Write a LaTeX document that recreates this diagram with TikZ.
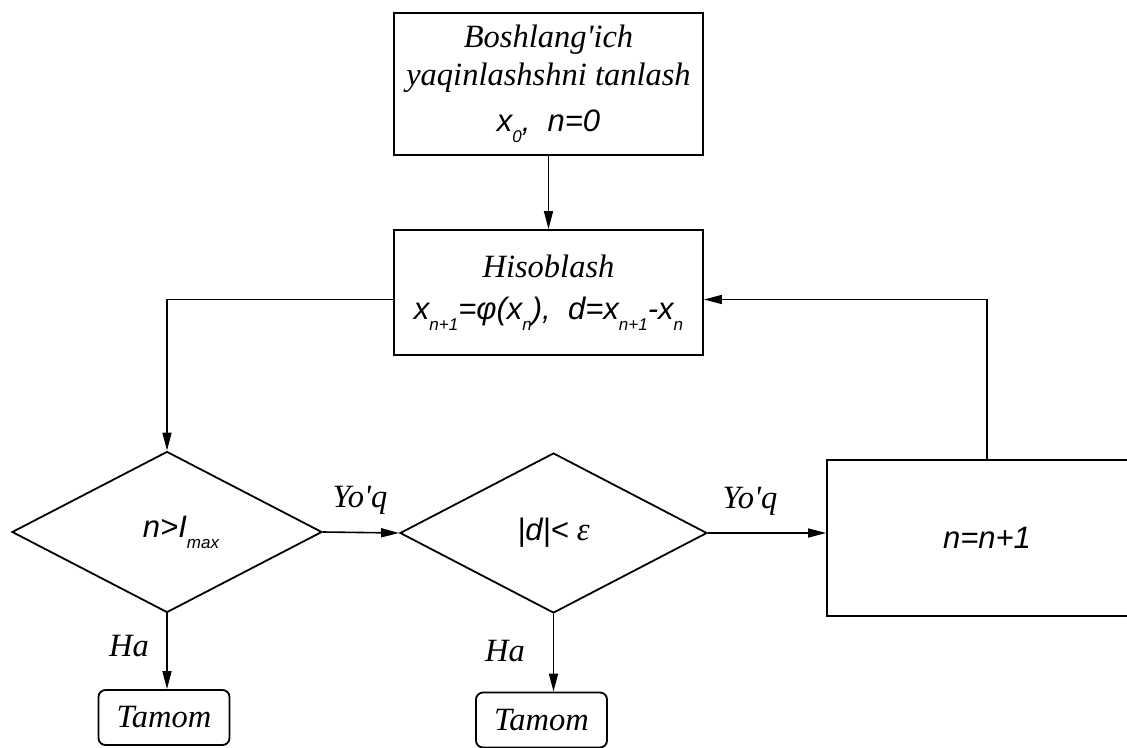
\documentclass[tikz,border=0pt]{standalone}
\usepackage{fontspec}
\setmainfont{Liberation Serif}
\newfontfamily\arialf{Liberation Sans}
\usetikzlibrary{shapes.geometric,arrows.meta,calc}
\newcommand{\sbs}[1]{\raisebox{-0.36em}{\fontsize{17}{17}\selectfont #1}}
\newcommand{\fm}{\arialf\itshape\fontsize{31}{36}\selectfont}
\newcommand{\apo}{\textquotesingle}
\tikzset{
  every node/.style={font=\itshape\fontsize{32.5}{38}\selectfont},
  box/.style={draw, line width=1.8pt, inner sep=0pt, align=center},
  dec/.style={draw, diamond, line width=1.8pt, inner sep=0pt},
  term/.style={draw, rounded corners=7pt, line width=1.8pt, inner sep=0pt, minimum width=131pt, minimum height=55pt},
  arr/.style={line width=1.6pt, -{Triangle[length=18pt,width=9pt]}},
  lbl/.style={inner sep=0pt}
}
\begin{document}
\begin{tikzpicture}[x=1pt,y=-1pt]
\clip (0,0) rectangle (1127,747);
\fill[white] (0,0) rectangle (1127,747);
\node[box, minimum width=309pt, minimum height=142pt] (start) at (548.5,84)
  {Boshlang\apo ich\\ yaqinlashshni tanlash\\[8pt] {\fm x\sbs{0}, \ n=0}};
\node[box, minimum width=309pt, minimum height=125pt] (calc) at (548.5,292.5)
  {Hisoblash\\[4pt] {\fm x\sbs{n+1}=φ(x\sbs{n}), \ d=x\sbs{n+1}-x\sbs{n}}};
\node[dec, minimum width=310pt, minimum height=161pt] (d1) at (167,532)
  {\hspace*{28pt}{\fm n>I\sbs{max}}};
\node[dec, minimum width=307pt, minimum height=160pt] (d2) at (553.5,533)
  {{\fm |d|<} ε};
\node[box, minimum width=320pt, minimum height=156pt] (inc) at (987,538)
  {\fm n=n+1};
\node[term] (end1) at (164,717.5) {Tamom};
\node[term] (end2) at (541.5,720) {Tamom};
\node[lbl] (y1) at (360,500) {Yo\apo q};
\node[lbl] (y2) at (750,501) {Yo\apo q};
\node[lbl] (h1) at (129,646) {Ha};
\node[lbl] (h2) at (505,651) {Ha};
\draw[arr] (start) -- (calc);
\draw[arr] ([yshift=-7pt]calc.west) -| (d1.north);
\draw[arr] (d1.east) -- (d2.west);
\draw[arr] (d2.east) -- (d2.east -| inc.west);
\draw[arr] (inc.north) |- ([yshift=-7pt]calc.east);
\draw[arr] (d1.south) -- (d1.south |- end1.north);
\draw[arr] (d2.south) -- (d2.south |- end2.north);
\end{tikzpicture}
\end{document}
